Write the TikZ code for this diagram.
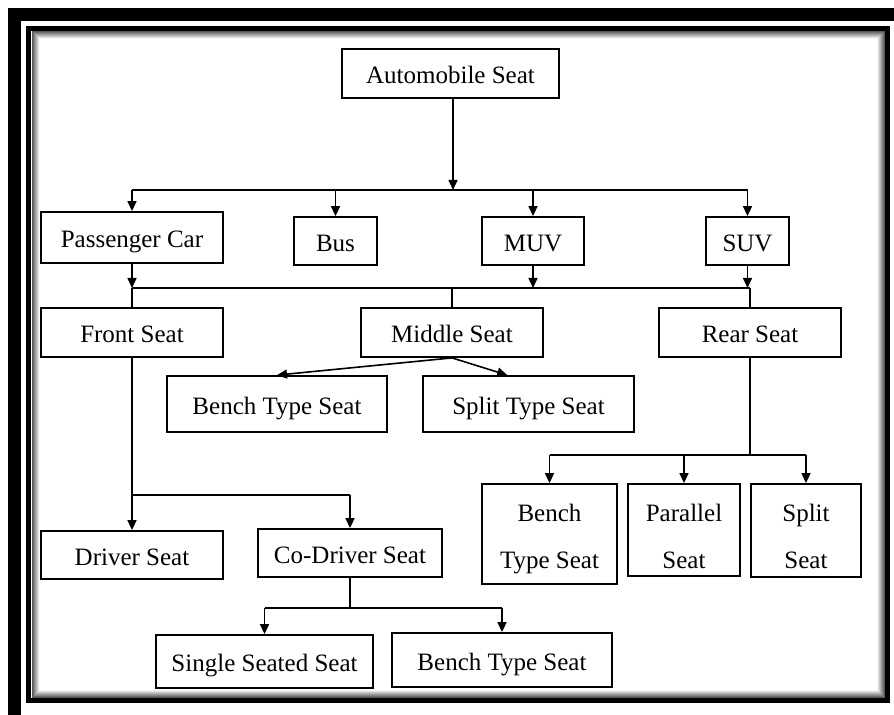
\documentclass[tikz,border=0pt]{standalone}
\usepackage{fontspec}
\setmainfont{Liberation Serif}
\usetikzlibrary{arrows.meta, positioning, calc}

\begin{document}
\begin{tikzpicture}[
  x=0.5pt, y=-0.5pt,
  every node/.style={font=\fontsize{12.5}{23.5}\selectfont},
  box/.style 2 args={draw, line width=0.9pt, inner sep=0pt, align=center,
                     text height=12.4pt, text depth=2pt,
                     minimum width=#1, minimum height=#2},
  twoline/.style={text height=#1, text depth=0pt},
  conn/.style={draw, line width=0.8pt},
  arr/.style={conn, -{Triangle[length=5pt, width=4.5pt]}},
]
\useasboundingbox (0,0) rectangle (894,715);
\draw[line width=6.5pt] (14.5,14.5) rectangle (901,721);
\foreach \i [evaluate=\i as \g using int(75-9*\i)] in {1,...,8}
  \draw[black!\g, line width=0.5pt] (31+\i,31+\i) rectangle (885-\i,698-\i);
\draw[line width=2.5pt] (28.5,29) rectangle (887.5,700.5);

\node[box={108.5pt}{24.5pt}] (auto) at (450.5,73.5) {Automobile Seat};
\node[box={91pt}{25.5pt}] (pcar) at (132,237.5) {Passenger Car};
\node[box={41.5pt}{24pt}] (bus) at (335.5,241) {Bus};
\node[box={51pt}{24pt}] (muv) at (533,241) {MUV};
\node[box={41.5pt}{24pt}] (suv) at (747.5,241) {SUV};
\node[box={91pt}{24.5pt}] (front) at (132,332.5) {Front Seat};
\node[box={91pt}{24.5pt}] (middle) at (452,332.5) {Middle Seat};
\node[box={91pt}{24.5pt}] (rear) at (750,332.5) {Rear Seat};
\node[box={110pt}{28pt}] (benchm) at (277,404) {Bench Type Seat};
\node[box={105.5pt}{28pt}] (splitm) at (528.5,404) {Split Type Seat};
\node[box={91pt}{24pt}] (driver) at (132,555) {Driver Seat};
\node[box={92pt}{24pt}] (codriver) at (350,553) {Co-Driver Seat};
\node[box={108.5pt}{26.5pt}] (single) at (264.5,661.5) {Single Seated Seat};
\node[box={110pt}{27pt}] (benchb) at (502,660) {Bench Type Seat};
\node[box={67.5pt}{50pt}, twoline=34pt] (benchr) at (549.5,534) {Bench\\Type Seat};
\node[box={56pt}{46pt}, twoline=38pt] (parallel) at (684,530) {Parallel\\Seat};
\node[box={55pt}{46.5pt}, twoline=38pt] (splitr) at (806,530.5) {Split\\Seat};

\coordinate (top) at (453,190);
\coordinate (mid) at (453,288);
\coordinate (ffork) at (132,495);
\coordinate (cfork) at (350,608);
\coordinate (rfork) at (750,455);

\draw[arr] (top |- auto.south) -- (top);
\draw[conn] (pcar.north |- top) -- (suv.north |- top);
\foreach \n in {pcar,bus,muv,suv}
  \draw[arr] (\n.north |- top) -- (\n.north);

\foreach \n in {pcar,muv,suv}
  \draw[arr] (\n.south) -- (\n.south |- mid);
\draw[conn] (front.north |- mid) -- (rear.north |- mid);
\foreach \n in {front,middle,rear}
  \draw[conn] (\n.north |- mid) -- (\n.north);

\draw[arr] (middle.south) -- (benchm.north);
\draw[arr] (middle.south) -- ($(splitm.north west)!0.4!(splitm.north east)$);

\draw[conn] (front.south) -- (ffork);
\draw[conn] (driver.north |- ffork) -- (codriver.north |- ffork);
\foreach \n in {driver,codriver}
  \draw[arr] (\n.north |- ffork) -- (\n.north);

\draw[conn] (codriver.south) -- (cfork);
\draw[conn] (single.north |- cfork) -- (benchb.north |- cfork);
\foreach \n in {single,benchb}
  \draw[arr] (\n.north |- cfork) -- (\n.north);

\draw[conn] (rear.south) -- (rfork);
\draw[conn] (benchr.north |- rfork) -- (splitr.north |- rfork);
\foreach \n in {benchr,parallel,splitr}
  \draw[arr] (\n.north |- rfork) -- (\n.north);
\end{tikzpicture}
\end{document}
